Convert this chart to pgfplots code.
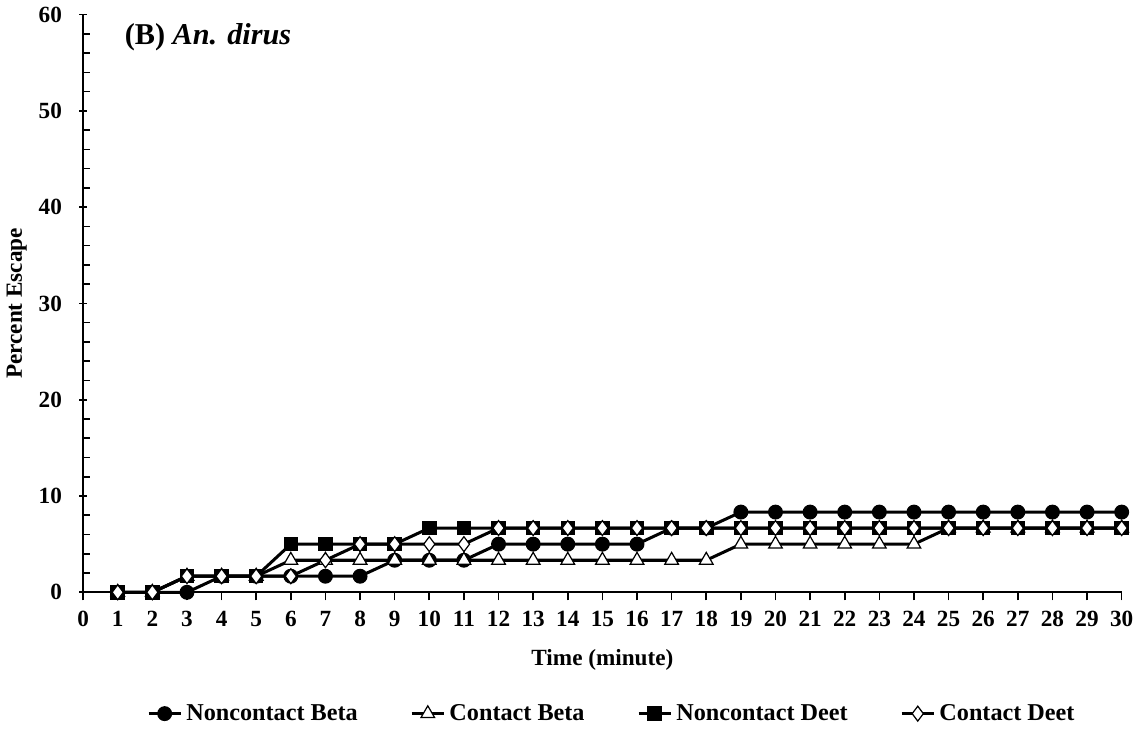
\documentclass[border=0pt]{standalone}
\usepackage{fontspec}
\setmainfont{Liberation Serif}
\usepackage{pgfplots}
\pgfplotsset{compat=1.18}

\begin{document}
\begin{tikzpicture}
\begin{axis}[
    scale only axis,
    width=515pt, height=286.5pt,
    xmin=0, xmax=30, ymin=0, ymax=60,
    axis lines=left,
    axis line style={black, line width=0.8pt, -},
    xtick={0,1,...,30},
    ytick={0,10,...,60},
    minor ytick={2,4,6,8,12,14,16,18,22,24,26,28,32,34,36,38,42,44,46,48,52,54,56,58},
    tick align=outside,
    tick style={black, line width=0.8pt},
    major tick length=4pt,
    minor tick length=3.5pt,
    every major y tick/.append style={xshift=2pt},
    every minor y tick/.append style={xshift=3.5pt},
    /pgf/number format/assume math mode=true,
    ticklabel style={font=\bfseries\fontsize{11.5}{13}\selectfont},
    xticklabel style={yshift=-2pt},
    yticklabel style={xshift=-3pt},
    xlabel={\textbf{Time (minute)}},
    ylabel={\textbf{Percent Escape}},
    label style={font=\bfseries\fontsize{11.5}{13}\selectfont},
    ylabel style={yshift=-1pt},
    xlabel style={yshift=-4pt},
    clip=false,
    legend columns=4,
    legend style={
        at={(0.51,-0.21)}, anchor=center,
        draw=none, fill=none,
        font=\bfseries\fontsize{12}{14}\selectfont,
        /tikz/every even column/.append style={column sep=24pt},
    },
    legend image code/.code={
        \draw[#1, mark repeat=2, mark phase=2] plot coordinates {(0pt,0pt) (8pt,0pt) (16pt,0pt)};
    },
    every axis plot/.append style={line width=1.5pt, black},
]
% Noncontact Beta
\addplot[mark=*, mark size=3.4pt, mark options={fill=black, line width=0.6pt}] coordinates {
    (1,0) (2,0) (3,0) (4,1.67) (5,1.67) (6,1.67) (7,1.67) (8,1.67) (9,3.33) (10,3.33)
    (11,3.33) (12,5) (13,5) (14,5) (15,5) (16,5) (17,6.67) (18,6.67) (19,8.33) (20,8.33)
    (21,8.33) (22,8.33) (23,8.33) (24,8.33) (25,8.33) (26,8.33) (27,8.33) (28,8.33) (29,8.33) (30,8.33)
};
% Contact Beta
\addplot[mark=triangle*, mark size=3.9pt, mark options={fill=white, line width=0.6pt}] coordinates {
    (1,0) (2,0) (3,1.67) (4,1.67) (5,1.67) (6,3.33) (7,3.33) (8,3.33) (9,3.33) (10,3.33)
    (11,3.33) (12,3.33) (13,3.33) (14,3.33) (15,3.33) (16,3.33) (17,3.33) (18,3.33) (19,5) (20,5)
    (21,5) (22,5) (23,5) (24,5) (25,6.67) (26,6.67) (27,6.67) (28,6.67) (29,6.67) (30,6.67)
};
% Noncontact Deet
\addplot[mark=square*, mark size=3.3pt, mark options={fill=black, line width=0.6pt}] coordinates {
    (1,0) (2,0) (3,1.67) (4,1.67) (5,1.67) (6,5) (7,5) (8,5) (9,5) (10,6.67)
    (11,6.67) (12,6.67) (13,6.67) (14,6.67) (15,6.67) (16,6.67) (17,6.67) (18,6.67) (19,6.67) (20,6.67)
    (21,6.67) (22,6.67) (23,6.67) (24,6.67) (25,6.67) (26,6.67) (27,6.67) (28,6.67) (29,6.67) (30,6.67)
};
% Contact Deet
\addplot[mark=diamond*, mark size=3.7pt, mark options={fill=white, line width=0.6pt}] coordinates {
    (1,0) (2,0) (3,1.67) (4,1.67) (5,1.67) (6,1.67) (7,3.33) (8,5) (9,5) (10,5)
    (11,5) (12,6.67) (13,6.67) (14,6.67) (15,6.67) (16,6.67) (17,6.67) (18,6.67) (19,6.67) (20,6.67)
    (21,6.67) (22,6.67) (23,6.67) (24,6.67) (25,6.67) (26,6.67) (27,6.67) (28,6.67) (29,6.67) (30,6.67)
};
\legend{Noncontact Beta, Contact Beta, Noncontact Deet, Contact Deet}
\node[anchor=west, font=\bfseries\fontsize{15}{17}\selectfont] at (axis cs:1.0,57.6) {(B) \textit{An. dirus}};
\end{axis}
\end{tikzpicture}
\end{document}
